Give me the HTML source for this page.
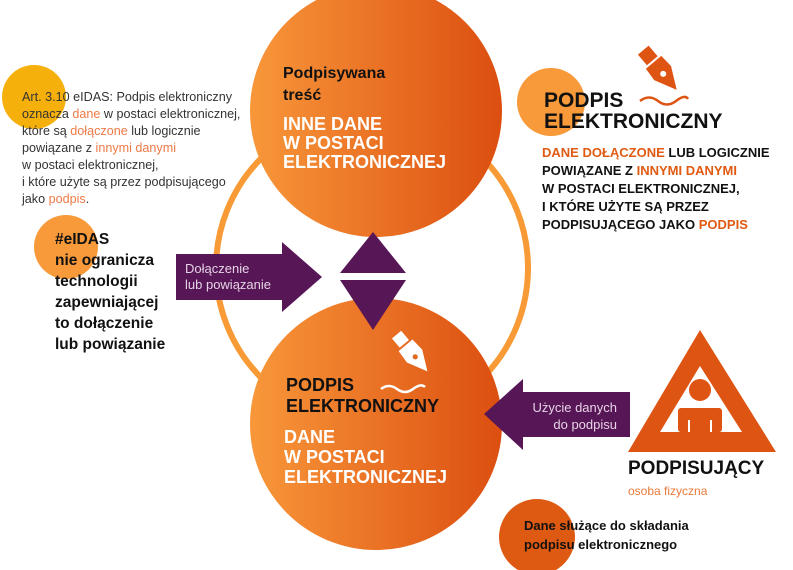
<!DOCTYPE html>
<html><head><meta charset="utf-8"><style>
html,body{margin:0;padding:0;background:#fff}
svg{display:block}
text{font-family:"Liberation Sans",sans-serif}
.b{font-weight:bold}
</style></head><body>
<svg width="793" height="570" viewBox="0 0 793 570" xmlns="http://www.w3.org/2000/svg">
<defs>
<linearGradient id="g" x1="0" x2="1" y1="0" y2="0">
<stop offset="0" stop-color="#f8973a"/><stop offset="1" stop-color="#dc4e10"/>
</linearGradient>
</defs>
<circle cx="372" cy="268" r="156" fill="none" stroke="#f89a35" stroke-width="6"/>
<circle cx="34" cy="97" r="32" fill="#f6b00c"/>
<circle cx="66" cy="247" r="32" fill="#f8993a"/>
<circle cx="551" cy="102" r="34" fill="#f8993a"/>
<circle cx="537" cy="537" r="38" fill="#de5a12"/>
<circle cx="376" cy="111" r="126" fill="url(#g)"/>
<circle cx="376" cy="424" r="126" fill="url(#g)"/>
<polygon points="373,232 406,273 340,273" fill="#571656"/>
<polygon points="340,280 406,280 373,330" fill="#571656"/>
<polygon points="176,254 282,254 282,242 322,277 282,312 282,300 176,300" fill="#571656"/>
<text x="185" y="273" font-size="13" fill="#e6d3e6">Dołączenie</text>
<text x="185" y="289" font-size="13" fill="#e6d3e6">lub powiązanie</text>
<polygon points="484,414 523,379 523,392 630,392 630,437 523,437 523,450" fill="#571656"/>
<text x="617" y="412" font-size="13" fill="#e6d3e6" text-anchor="end">Użycie danych</text>
<text x="617" y="429" font-size="13" fill="#e6d3e6" text-anchor="end">do podpisu</text>
<polygon points="700,330 776,452 628,452" fill="#de5412"/>
<polygon points="700,366 742,432 660,432" fill="#fff"/>
<circle cx="700" cy="390" r="11" fill="#de5412"/>
<rect x="678" y="408" width="44" height="24" rx="3" fill="#de5412"/>
<rect x="688" y="420" width="2" height="12" fill="#fff"/><rect x="710" y="420" width="2" height="12" fill="#fff"/>
<text x="628" y="474" font-size="19" class="b" fill="#111">PODPISUJĄCY</text>
<text x="628" y="495" font-size="12" fill="#e87a3a">osoba fizyczna</text>
<text x="524" y="530" font-size="13" class="b" fill="#111">Dane służące do składania</text>
<text x="524" y="549" font-size="13" class="b" fill="#111">podpisu elektronicznego</text>
<g font-size="12.6" fill="#333">
<text x="22" y="101">Art. 3.10 eIDAS: Podpis elektroniczny</text>
<text x="22" y="118">oznacza <tspan fill="#ee7a45">dane</tspan> w postaci elektronicznej,</text>
<text x="22" y="135">które są <tspan fill="#ee7a45">dołączone</tspan> lub logicznie</text>
<text x="22" y="152">powiązane z <tspan fill="#ee7a45">innymi danymi</tspan></text>
<text x="22" y="169">w postaci elektronicznej,</text>
<text x="22" y="186">i które użyte są przez podpisującego</text>
<text x="22" y="203">jako <tspan fill="#ee7a45">podpis</tspan>.</text>
</g>
<g font-size="15.5" class="b" fill="#111">
<text x="55" y="244">#eIDAS</text>
<text x="55" y="265">nie ogranicza</text>
<text x="55" y="286">technologii</text>
<text x="55" y="307">zapewniającej</text>
<text x="55" y="328">to dołączenie</text>
<text x="55" y="349">lub powiązanie</text>
</g>
<g class="b" fill="#111" font-size="21">
<text x="544" y="107">PODPIS</text>
<text x="544" y="128">ELEKTRONICZNY</text>
</g>
<g class="b" font-size="13" fill="#111">
<text x="542" y="157"><tspan fill="#e05a12">DANE DOŁĄCZONE</tspan> LUB LOGICZNIE</text>
<text x="542" y="175">POWIĄZANE Z <tspan fill="#e05a12">INNYMI DANYMI</tspan></text>
<text x="542" y="193">W POSTACI ELEKTRONICZNEJ,</text>
<text x="542" y="211">I KTÓRE UŻYTE SĄ PRZEZ</text>
<text x="542" y="229">PODPISUJĄCEGO JAKO <tspan fill="#e05a12">PODPIS</tspan></text>
</g>
<g transform="translate(660,70) rotate(-40)" fill="#de5412">
<rect x="-7" y="-26" width="14" height="14"/>
<polygon points="-10,-10 10,-10 11,4 0,26 -11,4"/>
<circle cx="0" cy="5" r="3" fill="#fff"/>
</g>
<path d="M640,101 q9,-7 18,0 t18,0 t12,-2" fill="none" stroke="#de5412" stroke-width="2.5"/>
<text x="283" y="78" font-size="16" class="b" fill="#111">Podpisywana</text>
<text x="283" y="100" font-size="16" class="b" fill="#111">treść</text>
<g class="b" fill="#fff" font-size="18">
<text x="283" y="130">INNE DANE</text>
<text x="283" y="149">W POSTACI</text>
<text x="283" y="168">ELEKTRONICZNEJ</text>
</g>
<g transform="translate(412,353) rotate(-40)" fill="#fff">
<rect x="-6" y="-24" width="12" height="12"/>
<polygon points="-9,-10 9,-10 10,4 0,24 -10,4"/>
<circle cx="0" cy="5" r="2.6" fill="#e06a20"/>
</g>
<path d="M381,389 q8,-6 16,0 t16,0 t12,-2" fill="none" stroke="#fff" stroke-width="2.5"/>
<g class="b" fill="#111" font-size="18">
<text x="286" y="391">PODPIS</text>
<text x="286" y="412">ELEKTRONICZNY</text>
</g>
<g class="b" fill="#fff" font-size="18">
<text x="284" y="443">DANE</text>
<text x="284" y="463">W POSTACI</text>
<text x="284" y="483">ELEKTRONICZNEJ</text>
</g>
</svg>
</body></html>
